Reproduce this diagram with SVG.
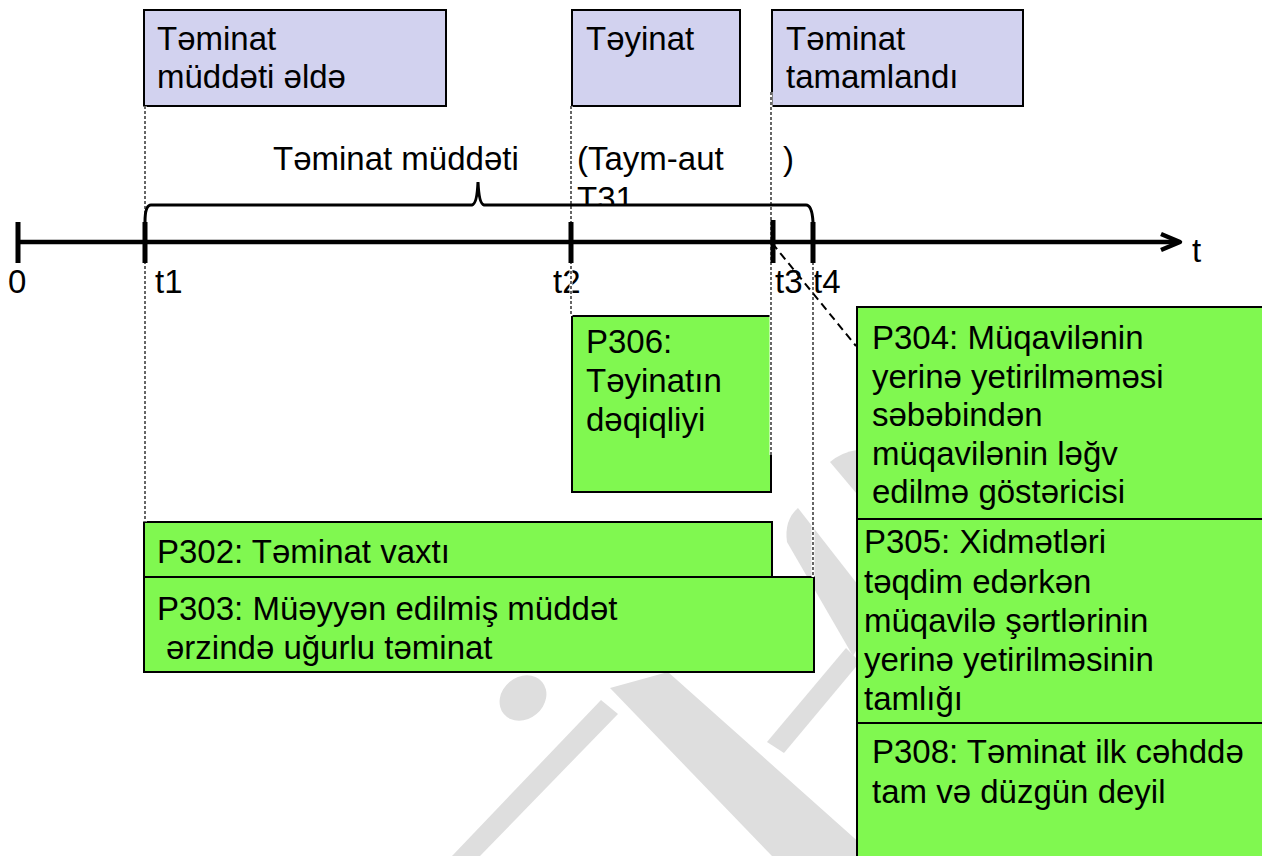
<svg xmlns="http://www.w3.org/2000/svg" width="1262" height="856" viewBox="0 0 1262 856">
  <defs>
    <style>
      text { font-family: "Liberation Sans", Arial, sans-serif; font-size: 33px; fill: #000; }
      .head { fill: #d2d2ef; stroke: #000; stroke-width: 2; }
      .kpi { fill: #80f850; stroke: #000; stroke-width: 2; }
      .mark { fill: #dedede; }
      .guide-bg { stroke: #fff; stroke-width: 3; fill: none; }
      .guide { stroke: #000; stroke-width: 1.2; stroke-dasharray: 3 2; fill: none; }
      .axis { stroke: #000; stroke-width: 4.5; fill: none; }
      .tick { stroke: #000; stroke-width: 5; fill: none; }
      .brace { stroke: #000; stroke-width: 3; fill: none; }
      .lead { stroke: #000; stroke-width: 2; stroke-dasharray: 8 5; fill: none; }
    </style>
    <clipPath id="aboveBrace">
      <rect x="560" y="120" width="200" height="84"/>
    </clipPath>
  </defs>

  <rect width="1262" height="856" fill="#fff"/>

  <!-- background emblem -->
  <g id="emblem">
    <ellipse class="mark" cx="523" cy="698" rx="25" ry="21" transform="rotate(-40 523 698)"/>
    <polygon class="mark" points="601,700 618,714 480,856 452,856"/>
    <polygon class="mark" points="610,688 668,672 862,845 862,856 772,856"/>
    <polygon class="mark" points="846,648 860,662 784,753 767,742"/>
    <path class="mark" d="M798,508 Q784,520 787,542 L853,656 L862,640 L862,590 Z"/>
    <path class="mark" d="M830,462 Q842,452 857,450 L862,450 L862,500 Z"/>
  </g>

  <!-- event headers -->
  <g id="hdr-start">
    <rect class="head" x="144" y="10" width="302" height="96"/>
    <text x="157" y="50">Təminat</text>
    <text x="157" y="88">müddəti əldə</text>
  </g>
  <g id="hdr-assign">
    <rect class="head" x="572" y="10" width="168" height="96"/>
    <text x="586" y="50">Təyinat</text>
  </g>
  <g id="hdr-done">
    <rect class="head" x="772" y="10" width="251" height="96"/>
    <text x="786" y="50">Təminat</text>
    <text x="786" y="88">tamamlandı</text>
  </g>

  <!-- interval captions -->
  <g id="captions">
    <text x="273" y="170">Təminat müddəti</text>
    <text x="577" y="170">(Taym-aut</text>
    <text x="577" y="210" clip-path="url(#aboveBrace)">T31</text>
    <text x="783" y="170">)</text>
  </g>

  <!-- axis labels -->
  <g id="axis-labels">
    <text x="8" y="293">0</text>
    <text x="155" y="293">t1</text>
    <text x="553" y="293">t2</text>
    <text x="775" y="293">t3</text>
    <text x="813" y="293">t4</text>
    <text x="1192" y="262">t</text>
  </g>

  <!-- indicator boxes -->
  <g id="p306">
    <rect class="kpi" x="572" y="316" width="199" height="176"/>
    <text x="586" y="353">P306:</text>
    <text x="586" y="392">Təyinatın</text>
    <text x="586" y="431">dəqiqliyi</text>
  </g>
  <g id="p302">
    <rect class="kpi" x="144" y="522" width="628" height="55"/>
    <text x="157" y="563">P302: Təminat vaxtı</text>
  </g>
  <g id="p303">
    <rect class="kpi" x="144" y="577" width="670" height="95"/>
    <text x="157" y="620">P303: Müəyyən edilmiş müddət</text>
    <text x="166" y="659">ərzində uğurlu təminat</text>
  </g>
  <g id="p304">
    <rect class="kpi" x="857" y="307" width="415" height="212"/>
    <text x="872" y="349">P304: Müqavilənin</text>
    <text x="872" y="388">yerinə yetirilməməsi</text>
    <text x="872" y="426">səbəbindən</text>
    <text x="872" y="465">müqavilənin ləğv</text>
    <text x="872" y="503">edilmə göstəricisi</text>
  </g>
  <g id="p305">
    <rect class="kpi" x="857" y="519" width="415" height="204"/>
    <text x="864" y="553">P305: Xidmətləri</text>
    <text x="864" y="593">təqdim edərkən</text>
    <text x="864" y="632">müqavilə şərtlərinin</text>
    <text x="864" y="671">yerinə yetirilməsinin</text>
    <text x="864" y="710">tamlığı</text>
  </g>
  <g id="p308">
    <rect class="kpi" x="857" y="723" width="415" height="140" stroke-width="2.5"/>
    <text x="872" y="763">P308: Təminat ilk cəhddə</text>
    <text x="872" y="803">tam və düzgün deyil</text>
  </g>

  <!-- guides, timeline and leader -->
  <g id="connectors">
    <path class="guide-bg" d="M145,106 V522 M571,106 V316 M771,92 V455 M813,262 V577"/>
    <path class="guide" d="M145,106 V522 M571,106 V316 M771,92 V455 M813,262 V577"/>
    <path class="brace" d="M145,222 Q145,205 151,205 L472,205 Q477,204 478,182 Q479,204 484,205 L806,205 Q812,205 813,222"/>
    <path class="axis" d="M18,242 H1178"/>
    <path class="axis" d="M1161,234 L1180,242 L1161,250" stroke-linejoin="round"/>
    <path class="tick" d="M18,222 V263 M145,222 V263 M571,222 V263 M773,220 V263 M813,222 V263"/>
    <path class="lead" d="M772,243 L856,346"/>
  </g>
</svg>
